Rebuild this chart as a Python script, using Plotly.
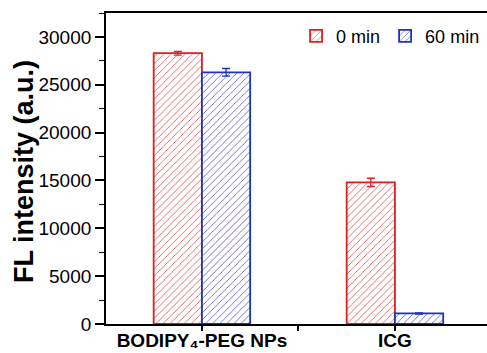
import plotly.graph_objects as go

# Fluorescence intensity before and after irradiation
samples = ["BODIPY₄-PEG NPs", "ICG"]
positions = [0, 1]
fl_0min = [28300, 14800]
fl_0min_err = [200, 430]
fl_60min = [26300, 1100]
fl_60min_err = [400, 60]
series_names = ["0 min", "60 min"]
y_ticks = [0, 5000, 10000, 15000, 20000, 25000, 30000]

RED = "#dc2020"
BLUE = "#2030c0"
FONT = "Arial, Liberation Sans, sans-serif"

fig = go.Figure()


def add_series(name, values, errors, color):
    fig.add_trace(go.Bar(
        name=name,
        x=positions,
        y=values,
        error_y=dict(type="data", array=errors, color=color, thickness=1.3, width=4),
        marker=dict(
            color="white",
            line=dict(color=color, width=1.8),
            pattern=dict(shape="/", fgcolor=color, bgcolor="white",
                         size=5, solidity=0.13, fillmode="replace"),
        ),
    ))


add_series(series_names[0], fl_0min, fl_0min_err, RED)
add_series(series_names[1], fl_60min, fl_60min_err, BLUE)

fig.update_layout(
    width=487, height=353,
    margin=dict(l=106, r=0, t=13, b=29),
    paper_bgcolor="white", plot_bgcolor="white",
    barmode="group", bargap=0.5, bargroupgap=0,
    font=dict(family=FONT, color="black"),
    legend=dict(
        orientation="h", x=0.995, xanchor="right", y=0.985, yanchor="top",
        bgcolor="rgba(0,0,0,0)", font=dict(size=18, family=FONT),
        itemwidth=30, tracegroupgap=0,
    ),
    showlegend=True,
)

fig.update_xaxes(
    range=[-0.497, 1.477], automargin=False,
    tickmode="array", tickvals=positions, ticktext=[f"<b>{s}</b>" for s in samples],
    tickfont=dict(size=19, family=FONT), ticklabelstandoff=-7,
    showline=True, linecolor="black", linewidth=1.8, mirror=True,
    ticks="outside", ticklen=5, tickwidth=1.5, tickcolor="black",
    minor=dict(tickmode="array", tickvals=[0.5], ticks="outside", ticklen=5,
               tickwidth=1.5, tickcolor="black"),
    showgrid=False, zeroline=False,
)

fig.update_yaxes(
    range=[0, 32500], automargin=False,
    tickmode="array", tickvals=y_ticks, ticktext=[str(v) for v in y_ticks],
    tickfont=dict(size=19, family=FONT),
    showline=True, linecolor="black", linewidth=1.8,
    ticks="outside", ticklen=9, tickwidth=1.5, tickcolor="black",
    minor=dict(tickmode="array", tickvals=[2500, 7500, 12500, 17500, 22500, 27500, 32500],
               ticks="outside", ticklen=5, tickwidth=1.2, tickcolor="black"),
    showgrid=False, zeroline=False,
)

fig.add_annotation(
    text="<b>FL intensity (a.u.)</b>", textangle=-90,
    xref="paper", yref="paper", x=(24 - 106) / 381, y=(324 - 172) / 311,
    xanchor="center", yanchor="middle", showarrow=False,
    font=dict(size=27, family=FONT, color="black"),
)

fig.write_html("out.html")
